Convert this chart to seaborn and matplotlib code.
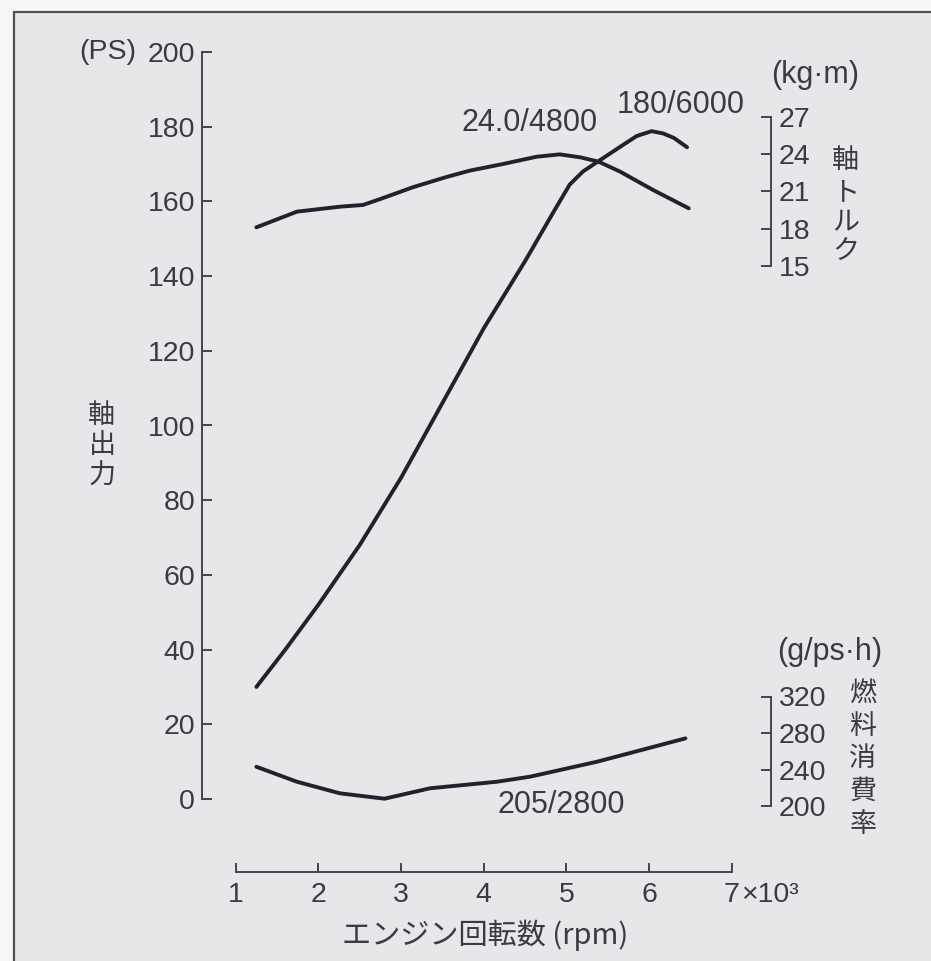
import matplotlib
matplotlib.use("Agg")
import matplotlib.pyplot as plt
from matplotlib import font_manager
from matplotlib.patches import Rectangle
import seaborn as sns

# engine speed (x10^3 rpm) and values
ps_rpm = [1.25, 1.6, 2.0, 2.5, 3.0, 3.5, 4.0, 4.5, 4.84, 5.04, 5.2, 5.39, 5.65, 5.85, 6.03, 6.17, 6.3, 6.46]
ps_val = [30, 40, 52, 68, 86, 106, 126, 144, 157, 164.5, 168, 170.8, 174.6, 177.5, 178.8, 178.2, 177, 174.5]

tq_rpm = [1.25, 1.74, 2.26, 2.54, 2.75, 3.15, 3.55, 3.83, 4.23, 4.64, 4.92, 5.17, 5.39, 5.65, 6.05, 6.48]
tq_val = [18.1, 19.36, 19.76, 19.9, 20.38, 21.34, 22.15, 22.66, 23.19, 23.78, 23.97, 23.73, 23.38, 22.58, 21.1, 19.63]

fc_rpm = [1.25, 1.74, 2.26, 2.8, 3.35, 4.16, 4.56, 5.37, 6.44]
fc_val = [243, 226.6, 213.9, 208, 219.4, 226.6, 232.1, 248.5, 274.1]

rpm_ticks = [1, 2, 3, 4, 5, 6, 7]
ps_ticks = list(range(0, 201, 20))
tq_ticks = [15, 18, 21, 24, 27]
fc_ticks = [200, 240, 280, 320]

sns.set_style("ticks")
names = {f.name for f in font_manager.fontManager.ttflist}
NUM = "Liberation Sans Narrow" if "Liberation Sans Narrow" in names else "Liberation Sans"
JP = "Noto Sans CJK JP"
plt.rcParams["font.family"] = [NUM, JP, "DejaVu Sans"]

INK = "#22212c"
TXT = "#3a3a44"
AXC = "#44444c"
TS = 20.5  # tick label size

W, H = 931, 961
fig = plt.figure(figsize=(W / 100, H / 100), dpi=100)
fig.patch.set_facecolor("#f7f7f7")
fig.add_artist(Rectangle((14 / W, -0.02), 1.1, 1.02 - 12 / H, transform=fig.transFigure,
                         fc="#e9e6e9", ec="#505058", lw=1.6, zorder=-5))


def rx(px):
    return 1 + (px - 235.7) / 82.67


ax = fig.add_axes([0, 0, 1, 1])
ax.patch.set_visible(False)
ax_t = ax.twinx()
ax_b = ax.twinx()

sns.lineplot(x=ps_rpm, y=ps_val, ax=ax, color=INK, lw=2.8, estimator=None, sort=False)
sns.lineplot(x=tq_rpm, y=tq_val, ax=ax_t, color=INK, lw=2.8, estimator=None, sort=False)
sns.lineplot(x=fc_rpm, y=fc_val, ax=ax_b, color=INK, lw=2.8, estimator=None, sort=False)

ax.set_xlim(rx(0), rx(W))
ax.set_ylim((799 - H) / 3.735, 799 / 3.735)
ax_t.set_ylim(27 - (H - 116.7) / 12.43, 27 + 116.7 / 12.43)
ax_b.set_ylim(200 - (H - 806) / 0.9125, 200 + 806 / 0.9125)

# main axes
ax.spines["top"].set_visible(False)
ax.spines["right"].set_visible(False)
ax.spines["left"].set_position(("data", rx(201.7)))
ax.spines["left"].set_bounds(0, 200)
ax.spines["bottom"].set_position(("data", (799 - 872) / 3.735))
ax.spines["bottom"].set_bounds(1, 7)
for s in ["left", "bottom"]:
    ax.spines[s].set_color(AXC)
    ax.spines[s].set_linewidth(1.4)
ax.set_xticks(rpm_ticks)
ax.set_xticklabels([str(v) for v in rpm_ticks])
ax.set_yticks(ps_ticks)
ax.set_yticklabels([str(v) for v in ps_ticks])
ax.tick_params(axis="x", direction="in", length=6.5, width=1.4, pad=7, labelsize=TS,
               color=AXC, labelcolor=TXT)
ax.tick_params(axis="y", direction="in", length=7, width=1.4, pad=4.8, labelsize=TS,
               color=AXC, labelcolor=TXT)

# right bracket scales
for a, ticks in [(ax_t, tq_ticks), (ax_b, fc_ticks)]:
    for s in ["left", "top", "bottom"]:
        a.spines[s].set_visible(False)
    a.spines["right"].set_position(("data", rx(771)))
    a.spines["right"].set_bounds(ticks[0], ticks[-1])
    a.spines["right"].set_color(AXC)
    a.spines["right"].set_linewidth(1.4)
    a.set_yticks(ticks)
    a.set_yticklabels([str(v) for v in ticks])
    a.tick_params(axis="y", direction="in", length=7, width=1.4, pad=5.5, labelsize=TS,
                  color=AXC, labelcolor=TXT)


def put(px, py, s, size=22, family=None, ha="center"):
    fig.text(px / W, 1 - py / H, s, ha=ha, va="center", fontsize=size, color=TXT,
             family=family or [NUM, JP, "DejaVu Sans"])


put(108, 52, "(PS)", size=TS)
for i, ch in enumerate("軸出力"):
    put(102, 415 + 30.5 * i, ch, size=19.5, family=[JP])

put(815, 75, "(kg·m)")
for ch, y in zip("軸トルク", [160, 193, 222, 251]):
    put(846, y, ch, size=19.5, family=[JP])

put(830, 652, "(g/ps·h)")
for i, ch in enumerate("燃料消費率"):
    put(863, 694 + 32.5 * i, ch, size=19.5, family=[JP])

put(530, 123, "24.0/4800")
put(681, 105, "180/6000")
put(561, 805, "205/2800")

put(741, 895, "×10³", size=TS, ha="left")
put(485, 935, "エンジン回転数 (rpm)", size=21, family=[JP])

fig.savefig("out.png", dpi=100)
